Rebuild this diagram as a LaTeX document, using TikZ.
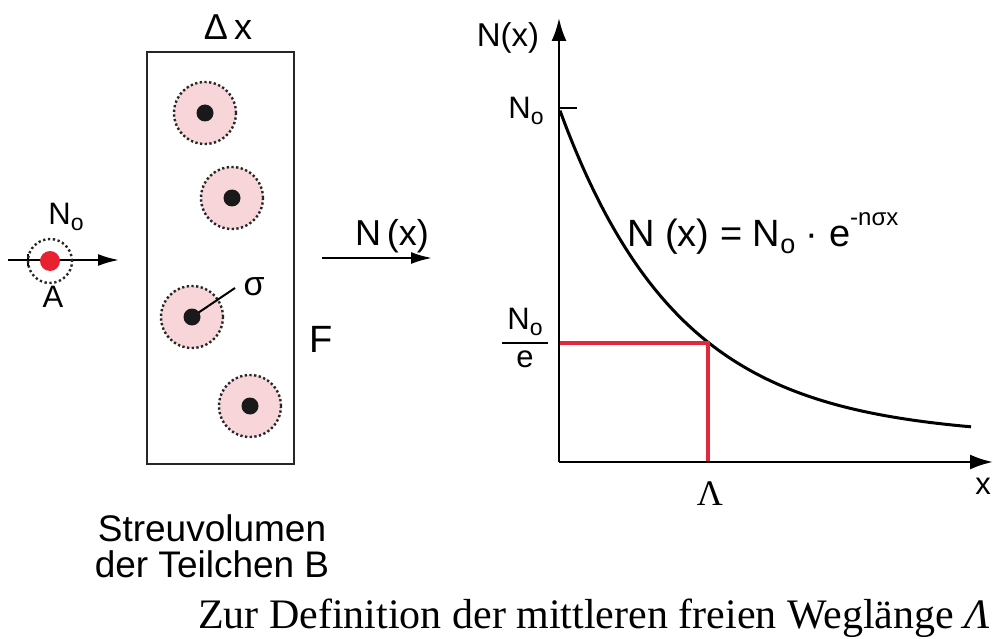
\documentclass[tikz,border=0pt]{standalone}
\usepackage{fontspec}
\setmainfont{Liberation Sans}
\newfontfamily\capfont{Liberation Serif}
\usetikzlibrary{arrows.meta}
\definecolor{pinkfill}{HTML}{F7D5D9}
\definecolor{redline}{HTML}{E2283C}
\definecolor{reddot}{HTML}{E8202F}
\newcommand{\Nsub}[1]{N\raisebox{-0.32ex}{\fontsize{#1}{#1}\selectfont o}}
\begin{document}
\begin{tikzpicture}[x=1pt,y=-1pt,
  lbl/.style={font=\fontsize{36}{40}\selectfont, inner sep=0pt},
  sml/.style={font=\fontsize{31}{34}\selectfont, inner sep=0pt},
  scat/.style={circle, draw=black!85, dash pattern=on 2.3pt off 2.4pt, line width=2.4pt, fill=pinkfill, minimum size=62pt, inner sep=0pt},
  kern/.style={circle, fill=black!90, minimum size=17pt, inner sep=0pt},
  arr/.style={line width=2.2pt, -{Latex[length=21pt,width=12pt]}},
  axis/.style={line width=2.6pt, -{Latex[length=23pt,width=15pt]}},
  red/.style={draw=redline, line width=3.2pt}]
\useasboundingbox (0,0) rectangle (993,639);

% scattering volume
\node[draw=black!85, line width=2.8pt, minimum width=147pt, minimum height=412pt, inner sep=0pt] (box) at (220.5,258) {};
\node[lbl] (dx) at (228,27) {Δ\,x};

\node[scat] (c1) at (205,113) {};
\node[scat] (c2) at (232,198) {};
\node[scat] (c3) at (192,317) {};
\node[scat] (c4) at (250,406) {};
\coordinate (sg) at (235,288);
\draw[line width=2pt] (c3.center) -- (sg);
\foreach \c in {c1,c2,c3,c4} \node[kern] at (\c) {};
\node[lbl, font=\fontsize{34}{38}\selectfont] (sigma) at (254,287) {σ};
\node[lbl, font=\fontsize{38}{42}\selectfont] (F) at (321,339) {F};

% incoming particle
\coordinate (in0) at (8,260);
\coordinate (in1) at (119,260);
\draw[arr] (in0) -- (in1);
\draw[line width=2pt] (28,254) -- (28,266);
\node[circle, draw=black!85, dash pattern=on 2.3pt off 2.6pt, line width=2.4pt, minimum size=44pt, inner sep=0pt] (pc) at (50,261) {};
\node[circle, fill=reddot, minimum size=20pt, inner sep=0pt] (pd) at (50,261) {};
\node[sml] (N0l) at (66,217) {\Nsub{23}};
\node[sml] (A) at (53,297) {A};

% outgoing
\coordinate (out0) at (322,258);
\coordinate (out1) at (432,258);
\draw[arr] (out0) -- (out1);
\node[lbl] (Nx) at (392,236) {N\,(x)};

% labels below
\node[lbl, align=center, font=\fontsize{37}{36}\selectfont] (sv) at (212,546) {Streuvolumen\\der Teilchen B};

% graph
\coordinate (O) at (559,462);
\coordinate (ytop) at (559,18);
\coordinate (xend) at (993,462);
\draw[axis] (O) -- (ytop);
\draw[axis] (O) -- (xend);
\node[lbl, font=\fontsize{33}{36}\selectfont] (yl) at (508,38) {N(x)};
\node[sml] (xl) at (983,486) {x};
\draw[line width=2.2pt] (559,108) -- (577,108);
\node[sml] (N0a) at (526,111) {\Nsub{23}};

\draw[line width=3pt, domain=1:412, samples=120, smooth] plot ({559+\x}, {462-(24.6+329.4*exp(-\x/120))});

\coordinate (P) at (708,343);
\draw[red] (560,343) -- (P) -- (708,461);

\node[sml] (fn) at (525,322) {\Nsub{23}};
\draw[line width=2pt] (502,343) -- (548,343);
\node[sml] (fe) at (525,359) {e};
\node[inner sep=0pt, font=\capfont\fontsize{36}{40}\selectfont] (lam) at (710,494) {Λ};

\node[lbl, font=\fontsize{38}{42}\selectfont, anchor=base west] (eq) at (627,247) {N (x) = \Nsub{27} · e\raisebox{1.05ex}{\fontsize{24}{24}\selectfont -nσx}};

\node[inner sep=0pt, anchor=base east, font=\capfont\fontsize{42}{46}\selectfont] (cap) at (990,628) {Zur Definition der mittleren freien Weglänge \textit{Λ}};
\end{tikzpicture}
\end{document}
